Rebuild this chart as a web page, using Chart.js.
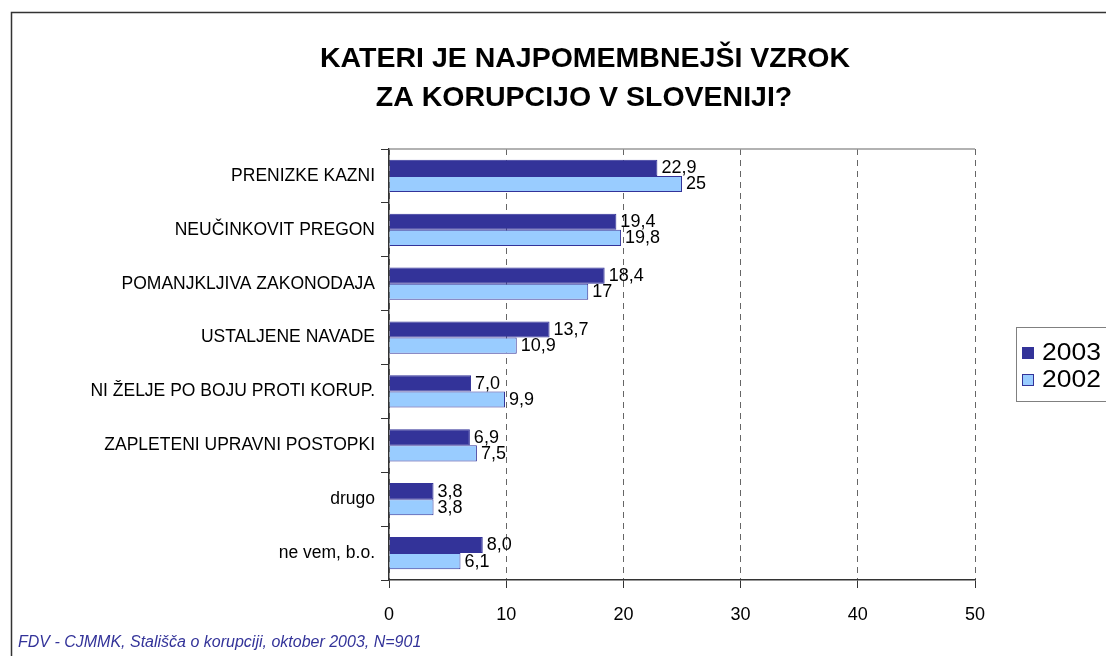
<!DOCTYPE html>
<html>
<head>
<meta charset="utf-8">
<script src="https://cdn.jsdelivr.net/npm/chart.js@4.4.0/dist/chart.umd.min.js"></script>
<style>
  html, body { margin: 0; padding: 0; background: #fff; }
  #wrap { width: 1106px; height: 656px; position: relative; }
</style>
</head>
<body>
<div id="wrap"><canvas id="c" width="1106" height="656"></canvas></div>
<script>
const categories = [
  "PRENIZKE KAZNI",
  "NEUČINKOVIT PREGON",
  "POMANJKLJIVA ZAKONODAJA",
  "USTALJENE NAVADE",
  "NI ŽELJE PO BOJU PROTI KORUP.",
  "ZAPLETENI UPRAVNI POSTOPKI",
  "drugo",
  "ne vem, b.o."
];
const values2003 = [22.9, 19.4, 18.4, 13.7, 7.0, 6.9, 3.8, 8.0];
const values2002 = [25, 19.8, 17, 10.9, 9.9, 7.5, 3.8, 6.1];
const seriesNames = ["2003", "2002"];
const xTicks = [0, 10, 20, 30, 40, 50];
const titleLines = ["KATERI JE NAJPOMEMBNEJŠI VZROK", "ZA KORUPCIJO V SLOVENIJI?"];
const sourceText = "FDV - CJMMK, Stališča o korupciji, oktober 2003, N=901";

const FONT = "'Liberation Sans', Arial, sans-serif";

function stretchText(ctx, txt, x, y, sx, align) {
  ctx.save();
  ctx.translate(x, y);
  ctx.scale(sx, 1);
  ctx.textAlign = align;
  ctx.fillText(txt, 0, 0);
  ctx.restore();
}

const decorPlugin = {
  id: 'decor',
  beforeDraw(chart) {
    const ctx = chart.ctx;
    ctx.save();
    ctx.fillStyle = '#fff';
    ctx.fillRect(0, 0, chart.width, chart.height);
    ctx.strokeStyle = '#333';
    ctx.lineWidth = 1.5;
    ctx.beginPath();
    ctx.moveTo(11.5, chart.height + 2);
    ctx.lineTo(11.5, 12.5);
    ctx.lineTo(chart.width + 2, 12.5);
    ctx.stroke();
    ctx.restore();
  },
  afterDraw(chart) {
    const ctx = chart.ctx;
    const a = chart.chartArea;
    ctx.save();
    ctx.strokeStyle = '#999';
    ctx.lineWidth = 1.5;
    ctx.beginPath();
    ctx.moveTo(a.left, a.top);
    ctx.lineTo(a.right, a.top);
    ctx.stroke();
    // title
    ctx.fillStyle = '#000';
    ctx.font = "bold 28.5px " + FONT;
    ctx.textBaseline = 'middle';
    ctx.textAlign = 'center';
    ctx.fillText(titleLines[0], 585, 59);
    ctx.fillText(titleLines[1], 584, 98);
    // source
    ctx.fillStyle = '#333399';
    ctx.font = "italic 16px " + FONT;
    ctx.textAlign = 'left';
    ctx.fillText(sourceText, 18, 643);
    // data labels
    ctx.fillStyle = '#000';
    ctx.font = "18px " + FONT;
    chart.data.datasets.forEach((ds, di) => {
      const meta = chart.getDatasetMeta(di);
      meta.data.forEach((el, i) => {
        const v = ds.data[i];
        const txt = (ds.labelDecimals ? v.toFixed(ds.labelDecimals) : String(v)).replace('.', ',');
        ctx.fillText(txt, el.x + 4, el.y + 0.5);
      });
    });
    // legend
    const lx = 1016, ly = 327, lw = 120, lh = 74;
    ctx.strokeStyle = '#808080';
    ctx.lineWidth = 1;
    ctx.strokeRect(lx + 0.5, ly + 0.5, lw, lh);
    ctx.font = "23px " + FONT;
    chart.data.datasets.forEach((ds, di) => {
      const cy = ly + 26 + di * 27;
      ctx.fillStyle = ds.backgroundColor;
      ctx.fillRect(lx + 6, cy - 6, 12, 12);
      ctx.strokeStyle = ds.borderColor;
      ctx.strokeRect(lx + 6.5, cy - 5.5, 11, 11);
      ctx.fillStyle = '#000';
      stretchText(ctx, ds.label, lx + 26, cy + 1, 1.15, 'left');
    });
    ctx.restore();
  }
};

new Chart(document.getElementById('c'), {
  type: 'bar',
  data: {
    labels: categories,
    datasets: [
      { label: seriesNames[0], data: values2003, backgroundColor: '#333399', borderColor: '#333399', borderWidth: 1, labelDecimals: 1 },
      { label: seriesNames[1], data: values2002, backgroundColor: '#99CCFF', borderColor: '#333399', borderWidth: 1, labelDecimals: 0 }
    ]
  },
  options: {
    indexAxis: 'y',
    responsive: false,
    animation: false,
    devicePixelRatio: 1,
    layout: { padding: { top: 149, right: 131, left: 0, bottom: 0 } },
    datasets: { bar: { categoryPercentage: 0.6, barPercentage: 1.0 } },
    plugins: {
      legend: { display: false },
      title: { display: false },
      tooltip: { enabled: false }
    },
    scales: {
      x: {
        min: 0, max: 50,
        afterBuildTicks(scale) { scale.ticks = xTicks.map(v => ({ value: v })); },
        afterFit(scale) { scale.height = 76; },
        ticks: { color: '#000', font: { family: FONT, size: 18 }, padding: 16 },
        grid: { color: '#666', lineWidth: 1, tickBorderDash: [], tickColor: '#333', tickLength: 8, drawTicks: true },
        border: { display: true, color: '#333', width: 1.5, dash: [6, 5] }
      },
      y: {
        afterFit(scale) { scale.width = 389; },
        ticks: { color: '#000', font: { family: FONT, size: 17.5 }, padding: 6 },
        grid: { offset: true, drawOnChartArea: false, tickLength: 8, tickColor: '#333', lineWidth: 1 },
        border: { display: true, color: '#333', width: 1.5 }
      }
    }
  },
  plugins: [decorPlugin]
});
</script>
</body>
</html>
